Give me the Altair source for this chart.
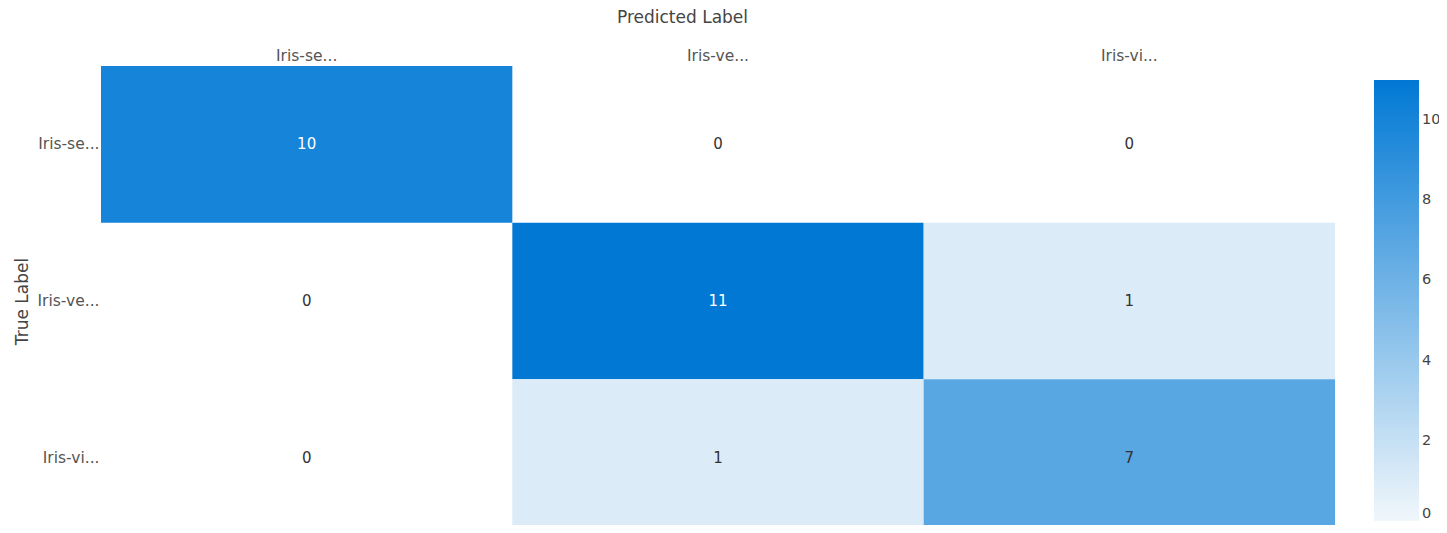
import altair as alt
import pandas as pd

true_labels = ["Iris-setosa", "Iris-versicolor", "Iris-virginica"]
pred_labels = ["Iris-setosa", "Iris-versicolor", "Iris-virginica"]
row_setosa = [10, 0, 0]
row_versicolor = [0, 11, 1]
row_virginica = [0, 1, 7]
legend_ticks = [0, 2, 4, 6, 8, 10]

rows = [row_setosa, row_versicolor, row_virginica]
records = []
for t, r in zip(true_labels, rows):
    for p, v in zip(pred_labels, r):
        records.append({"true": t, "pred": p, "count": v})
df = pd.DataFrame(records)

FONT = "DejaVu Sans"
trunc = "slice(datum.label, 0, 7) + '...'"

x_enc = alt.X(
    "pred:N", sort=pred_labels,
    scale=alt.Scale(paddingInner=0, paddingOuter=0),
    axis=alt.Axis(orient="top", title="Predicted Label", labelExpr=trunc,
                  ticks=False, domain=False, grid=False, labelAngle=0,
                  labelFontSize=15.5, labelColor="#555", labelPadding=3,
                  titleFontSize=17, titleColor="#444", titleFontWeight="normal",
                  titleX=581, titleY=-49, titleBaseline="middle"),
)
y_enc = alt.Y(
    "true:N", sort=true_labels,
    scale=alt.Scale(paddingInner=0, paddingOuter=0, range=[0, 470]),
    axis=alt.Axis(title="True Label", labelExpr=trunc, ticks=False, domain=False,
                  grid=False, labelFontSize=15.5, labelColor="#555", labelPadding=2,
                  titleFontSize=17, titleColor="#444", titleFontWeight="normal",
                  titleX=-79, titleY=235, titleBaseline="middle"),
)

base = alt.Chart(df).encode(x=x_enc, y=y_enc)

rects = base.transform_filter("datum.count > 0").mark_rect(strokeWidth=0).encode(
    color=alt.Color(
        "count:Q",
        scale=alt.Scale(domain=[0, 11], range=["#f1f7fb", "#0078d4"], interpolate="rgb"),
        legend=alt.Legend(orient="none", legendX=1273, legendY=14, direction="vertical",
                          gradientLength=441, gradientThickness=45, title=None,
                          labelFontSize=14.5, labelColor="#444", labelOffset=3,
                          labelBaseline="middle",
                          values=legend_ticks, gradientStrokeWidth=0),
    )
)

texts = base.mark_text(fontSize=15).encode(
    text="count:Q",
    color=alt.condition("datum.count > 8", alt.value("white"), alt.value("#333")),
)

chart = (rects + texts).properties(
    width=1234, height=459,
    autosize=alt.AutoSizeParams(type="none"),
    padding={"left": 93, "top": 58, "right": 104, "bottom": 0},
).configure(font=FONT).configure_view(stroke=None)

chart.save("out.html", embed_options={"renderer": "svg", "actions": False})
